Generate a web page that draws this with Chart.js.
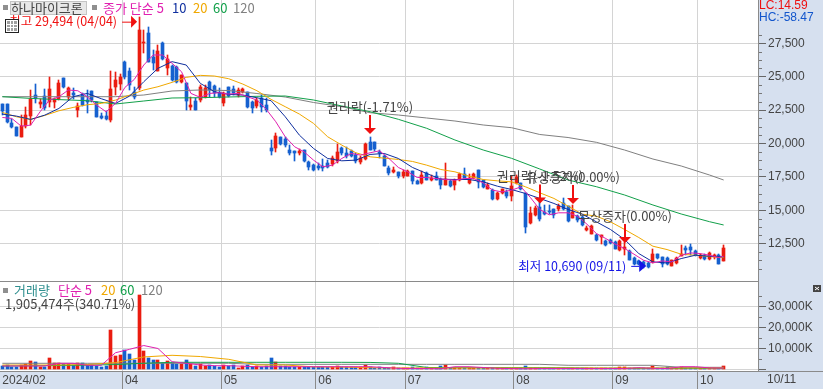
<!DOCTYPE html>
<html>
<head>
<meta charset="utf-8">
<title>하나마이크론</title>
<script src="https://cdn.jsdelivr.net/npm/chart.js@4/dist/chart.umd.min.js"></script>
<style>
  html, body { margin: 0; padding: 0; background: #d6e0ef; overflow: hidden; }
  canvas { display: block; }
</style>
</head>
<body>
<canvas id="stockChart" width="823" height="389"></canvas>
<script>
  // Trading days, 2024
  const dates = [
    '02/22','02/23','02/26','02/27','02/28','02/29',
    '03/04','03/05','03/06','03/07','03/08','03/11','03/12','03/13','03/14','03/15','03/18','03/19','03/20','03/21','03/22','03/25','03/26','03/27','03/28','03/29',
    '04/01','04/02','04/03','04/04','04/05','04/08','04/09','04/11','04/12','04/15','04/16','04/17','04/18','04/19','04/22','04/23','04/24','04/25','04/26','04/29','04/30',
    '05/02','05/03','05/07','05/08','05/09','05/10','05/13','05/14','05/16','05/17','05/20','05/21','05/22','05/23','05/24','05/27','05/28','05/29','05/30','05/31',
    '06/03','06/04','06/05','06/07','06/10','06/11','06/12','06/13','06/14','06/17','06/18','06/19','06/20','06/21','06/24','06/25','06/26','06/27','06/28',
    '07/01','07/02','07/03','07/04','07/05','07/08','07/09','07/10','07/11','07/12','07/15','07/16','07/17','07/18','07/19','07/22','07/23','07/24','07/25','07/26','07/29','07/30','07/31',
    '08/01','08/02','08/05','08/06','08/07','08/08','08/09','08/12','08/13','08/14','08/16','08/19','08/20','08/21','08/22','08/23','08/26','08/27','08/28','08/29','08/30',
    '09/02','09/03','09/04','09/05','09/06','09/09','09/10','09/11','09/12','09/13','09/19','09/20','09/23','09/24','09/25','09/26','09/27','09/30',
    '10/02','10/04','10/07','10/08','10/10','10/11'
  ];
  const blankSlots = 7; // empty room right of the last candle

  const opens = [
    22925,22925,21500,21250,20500,21300,22075,23625,22950,23575,
    23100,23125,23300,24875,23500,23750,22500,23700,23250,23925,
    23075,22075,22075,21750,24200,24450,26125,25425,23875,24125,
    27550,28300,26500,25450,27550,25675,25800,25750,24625,24500,
    22750,23175,23250,23500,24625,24300,23800,23050,24200,24075,
    23600,23875,23825,23125,22800,23375,22875,19630,19630,20505,
    20355,19505,19430,19305,19505,18580,18380,18305,18330,18555,
    18455,18655,19630,19305,19430,19130,18630,18830,20130,20105,
    19380,19055,18180,17880,17880,17555,17580,17930,17205,17055,
    17805,17255,17555,17380,16880,17180,16880,17255,17705,17055,
    17455,18005,17255,16630,16505,15880,16330,16380,16055,17055,
    17012,16262,14012,14637,15262,14887,14962,15062,15062,15562,
    15312,14437,14562,14462,13562,13262,13187,13012,12687,12762,
    12637,12012,12137,11962,11462,11212,11137,11062,11137,11712,
    11512,11462,10812,11062,11562,12212,12262,11962,11462,11587,
    11387,11512,11637,11212
  ];
  const closes = [
    22425,21625,21200,20550,21300,22125,23325,23375,23125,22625,
    24075,23300,24500,24200,24150,23625,22800,22875,23125,23250,
    22000,21875,21800,24075,24750,25000,24950,24375,23500,28500,
    27625,26125,26050,26950,26300,26300,24750,24625,25100,23175,
    22875,22500,24200,24125,24000,23750,23450,23800,23550,23800,
    24000,24050,22750,22625,23250,22750,22500,19430,20555,19930,
    19880,19255,19255,19430,18705,18205,18005,18130,18180,18205,
    18880,19355,19255,19055,19080,18680,18880,19955,19505,19555,
    19255,18305,17755,18005,17555,17880,17930,17205,17005,17630,
    17305,17455,17305,16880,17330,16805,17305,17705,17455,17430,
    17705,17130,16755,16880,15880,16305,16580,16055,16805,17505,
    16562,13762,14812,15137,14312,14712,14837,14637,15312,15062,
    14212,14887,14262,13887,13712,13812,12762,13137,12437,12562,
    12137,12712,12262,11312,10962,10962,10812,10762,11762,11462,
    10962,10962,11262,11462,11762,12012,12012,11637,11637,11362,
    11812,11637,11012,12212
  ];
  const highs = [
    22925,22925,21800,21250,22125,22750,24000,24450,23325,24050,
    24950,23375,24750,24875,24200,24125,23000,23750,24000,23925,
    23125,22300,22425,25450,25375,25200,26175,25625,24200,29494,
    28500,28700,27000,27375,27600,26625,25875,25825,25125,24550,
    23450,23375,24375,24375,24675,24375,24125,23875,24250,24300,
    24125,24125,23875,23200,23375,23625,23375,20255,20755,20505,
    20505,19880,19430,19555,19505,18705,18455,18555,18805,18755,
    19055,19955,19705,19755,19505,19305,19055,20005,20455,20130,
    19505,19130,18305,18205,17880,18005,18005,17930,17305,17930,
    17880,17630,17880,17455,18555,17305,17380,17805,18130,17705,
    17805,18005,17305,17055,16630,16380,16630,16555,17555,17630,
    17062,16262,15262,15312,15637,15387,15387,15062,15437,15887,
    15312,15387,14637,14562,13812,13887,13262,13137,12762,12887,
    12687,12812,12637,12012,11512,11312,11212,11137,12087,11762,
    11512,11512,11312,11512,12387,12312,12512,12062,11762,11712,
    11887,11762,11712,12387
  ];
  const lows = [
    22125,21550,21125,20550,20500,21125,21375,23050,22625,22500,
    22750,22625,23250,24125,23250,23325,22000,22800,22250,23125,
    21950,21800,21750,21625,23625,24000,24800,24000,23325,24000,
    26750,26075,25500,25450,26250,25125,24675,24550,24500,22500,
    22500,22475,23125,23375,23500,23500,23375,22800,23450,23625,
    23450,23750,22625,22250,22625,22325,22375,19130,19380,19880,
    19755,19130,18680,19130,18630,18005,17930,18005,17930,18180,
    18330,18555,19105,18880,19005,18555,18455,18755,19505,19455,
    18880,18305,17630,17755,17430,17455,17555,16955,16955,17005,
    17255,17205,17255,16630,16880,16755,16505,17205,17405,17005,
    17355,16705,16705,16580,15805,15805,16205,15955,15705,17005,
    16512,13312,13962,14562,14212,14637,14712,14387,14962,15012,
    14137,14387,14137,13812,13462,13212,12712,12462,12312,12462,
    12087,11962,11637,11262,10887,10887,10712,10690,11087,11387,
    10762,10887,10812,11012,11562,11637,11637,11587,11387,11262,
    11312,11387,10962,11187
  ];

  // Price moving averages, read every few trading days
  const ma5 = [
    21950,21875,21300,21375,22375,23250,23500,24000,23950,23500,22875,22375,23000,24200,24800,25875,26625,26625,26000,25375,
    23750,23450,23750,23800,23700,23750,23500,23250,22550,21630,20505,19755,19380,18755,18255,18380,18880,19255,19130,19305,
    19455,18880,18205,17880,17455,17455,17380,17305,17255,17380,17380,17055,16505,16380,16505,16755,15962,15062,14662,14812,
    14812,14562,13962,13262,12887,12462,12137,11712,11262,11062,11212,11137,11637,11812,11762,11637,11462,11562
  ];
  const ma10 = [
    22200,22050,21800,22125,22625,23500,23750,23350,23000,23550,24625,25625,26125,25875,24500,23875,23675,23625,23425,
    23205,22005,20630,19630,18880,18705,18755,19180,19255,18880,18205,17755,17330,17305,17305,17130,16805,16555,16255,
    15887,15512,15062,14712,14137,13562,12812,11762,11137,11062,11387,11637,11562,11512
  ];
  const ma20 = [
    22325,22000,21800,22100,22450,22700,22900,23000,23250,23625,24000,24250,24575,24950,25100,25050,24850,24450,23950,
    23305,22755,22205,21505,20505,19880,19305,19005,18905,18805,18655,18380,18055,17880,17555,17305,17205,17130,16755,
    16312,15887,15312,14712,14562,14137,13562,12962,12312,12062,11712,11637,11537,11462
  ];
  const ma60 = [
    23503,23376,23286,23204,22957,23181,23406,23428,23481,23533,23555,23256,22807,22380,21811,21138,20262,19513,18892,18091,
    17268,16767,16145,15397,14723,14147,13900
  ];
  const ma120 = [
    23503,23503,23503,23503,23503,23630,23930,24005,23967,23742,23480,23069,22755,22305,22133,21909,21684,21385,21183,20674,
    20449,20090,19510,18837,18316,17642,17268
  ];

  // Volume in thousands of shares
  const volumes = [
    1580,2054,1264,1264,2054,2844,3950,3476,1264,1264,
    5372,3160,3002,2844,2844,2054,3002,3002,2054,2054,
    1580,1264,1580,18644,6636,6952,9164,7268,4424,35234,
    8690,5688,4740,4740,3160,3950,3160,2844,2844,4740,
    2844,1580,2844,1580,2054,1580,1264,2054,1580,2370,
    948,1580,2370,1264,1580,1264,1580,5530,3476,1580,
    1580,1264,1264,1264,1106,1264,1106,1264,1106,1264,
    1106,1580,1264,1264,1106,1106,1264,2370,1106,948,
    1106,948,948,1106,790,948,948,1106,790,948,
    1264,948,790,1580,2370,790,948,790,790,632,
    948,790,632,790,632,790,632,790,632,632,
    790,1896,790,632,790,632,790,632,632,790,
    632,790,632,632,790,632,632,790,632,632,
    790,1264,1264,790,632,632,790,632,1896,632,
    790,1264,632,790,1264,632,632,790,632,632,
    790,632,790,1905
  ];
  const volMa5 = [
    1706,1706,1706,1706,2986,2986,2038,2038,8000,9620,11400,10000,3744,2986,2180,1850,1850,1600,1370,1370,
    1370,1370,1370,1370,1370,1370,1370,1000,600,500,500,400,1370,1370,1000,600,500,400,500,500,
    500,500,500,500,500,900,600,500,1370,1370,800,700
  ];
  const volMa20 = [2180,2180,2180,2400,3300,6000,6777,6200,4880,2180,2180,1300,1200,900,760,760,760,760,760,760,760,760,760,760,760,760,760];
  const volMa60 = [1706,1800,1950,2100,2400,3000,3460,3460,3460,3460,3460,3460,3460,3400,2990,1000,900,900,900,900,850,600,600,600,600,600,600];
  const volMa120 = [2990,2990,2990,2990,2990,2990,2990,2990,2990,2500,2500,2500,2500,2500,2500,2500,2500,2500,2500,2500,2040,2040,2040,2040,1090,1090,1090];

  // Axis labels
  const monthStartIdx = [0, 26, 47, 67, 86, 109, 130, 148];
  const monthLabels = ['2024/02', '04', '05', '06', '07', '08', '09', '10'];
  const priceTicks = [27500, 25000, 22500, 20000, 17500, 15000, 12500];
  const priceMinorTicks = [28125,26875,26250,25625,24375,23750,23125,21875,21250,20625,19375,18750,18125,16875,16250,15625,14375,13750,13125,11875,11250,10625];
  const volumeTicks = [30000, 20000, 10000, 0];
  const volumeMinorTicks = [35000, 25000, 15000, 5000];

  // Events marked with a down arrow
  const eventIdx = [78, 114, 121, 132];
  const eventPrices = [20710, 15510, 15470, 12550];
  const eventTexts = ['권리락(-1.71%)', '권리락(-1.52%)', '유상증자(0.00%)', '무상증자(0.00%)'];

  const highIdx = 29, highPrice = 29494, highText = '최고 29,494 (04/04)';
  const lowIdx = 137, lowPrice = 10690, lowText = '최저 10,690 (09/11)';

  const RED = '#ea1c10';
  const BLUE = '#1560cf';
  const GRID = '#d4d4d4';
  const AXIS = '#8a8a8a';
  const TEXT = '#444444';
  const C5 = '#e020b0', C10 = '#0f2f9f', C20 = '#f0a800', C60 = '#12a04a', C120 = '#808080';
  const FONT = "'Liberation Sans Narrow','Liberation Sans','Noto Sans CJK KR',sans-serif";
  const KFONT = "'Noto Sans CJK KR',sans-serif";

  const labels = dates.concat(Array(blankSlots).fill(''));
  const isUp = i => closes[i] >= opens[i];

  // lines only carry a value every `step` days
  function knots(values, step) {
    return values.map((y, k) => ({ x: dates[Math.min(k * step, dates.length - 1)], y: y }));
  }

  function maLine(label, values, step, color, axis) {
    return {
      type: 'line', label: label, data: knots(values, step), yAxisID: axis,
      borderColor: color, borderWidth: 1, pointRadius: 0, tension: 0, order: 1
    };
  }

  function fmt(n) {
    return n.toString().replace(/\B(?=(\d{3})+$)/g, ',');
  }

  // stop the first and last tick label from pushing the chart area in
  function noPadding(scale) {
    scale.paddingTop = 0;
    scale.paddingBottom = 0;
    scale.paddingLeft = 0;
    scale.paddingRight = 0;
  }

  // Panel backgrounds, separators, minor ticks, and all the floating text
  const decorations = {
    id: 'decorations',
    afterDatasetsUpdate(chart) {
      // keep bars on whole pixels like the original
      chart.data.datasets.forEach((ds, i) => {
        if (ds.type === 'line') return;
        chart.getDatasetMeta(i).data.forEach(bar => {
          bar.x = Math.floor(bar.x) + 0.5;
          bar.y = Math.round(bar.y);
          bar.base = Math.round(bar.base);
          if (bar.base === bar.y) bar.base = bar.y + 1;
        });
      });
    },
    beforeDraw(chart) {
      const { ctx, chartArea: a } = chart;
      ctx.save();
      ctx.fillStyle = '#d6e0ef';
      ctx.fillRect(0, 0, chart.width, chart.height);
      ctx.fillStyle = '#ffffff';
      ctx.fillRect(a.left, a.top, a.right - a.left, a.bottom - a.top);
      ctx.restore();
    },
    afterDraw(chart) {
      const { ctx, chartArea: a, scales } = chart;
      const price = scales.price, vol = scales.volume, x = scales.x;
      ctx.save();

      // separators
      ctx.fillStyle = AXIS;
      ctx.fillRect(a.right - 1, 0, 1, a.bottom);
      ctx.fillRect(0, price.bottom, a.right, 1);
      ctx.fillRect(0, a.bottom, chart.width, 1);

      // minor ticks on the right axis
      ctx.fillStyle = '#777777';
      priceMinorTicks.forEach(v => ctx.fillRect(a.right, Math.round(price.getPixelForValue(v)), 3, 1));
      volumeMinorTicks.forEach(v => ctx.fillRect(a.right, Math.round(vol.getPixelForValue(v)), 3, 1));

      ctx.textBaseline = 'middle';
      ctx.textAlign = 'left';

      // price legend
      ctx.fillStyle = '#8f8f8f';
      ctx.fillRect(3, 5, 5, 5);
      ctx.fillRect(92, 5, 5, 5);
      ctx.fillStyle = '#e8e8e8';
      ctx.fillRect(10, 1, 77, 14);
      ctx.strokeStyle = '#c4c4c4';
      ctx.strokeRect(10.5, 1.5, 76, 13);
      ctx.font = '13px ' + KFONT;
      ctx.fillStyle = TEXT;
      ctx.fillText('하나마이크론', 11, 8);
      ctx.fillStyle = C5;
      ctx.fillText('종가 단순 5', 103, 8);
      ctx.fillStyle = C10;
      ctx.fillText('10', 172, 8);
      ctx.fillStyle = C20;
      ctx.fillText('20', 193, 8);
      ctx.fillStyle = C60;
      ctx.fillText('60', 213, 8);
      ctx.fillStyle = C120;
      ctx.fillText('120', 233, 8);

      // LC / HC box
      ctx.font = '12px ' + FONT;
      ctx.fillStyle = '#ee1111';
      ctx.fillText('LC:14.59', 759, 6);
      ctx.fillStyle = '#1155cc';
      ctx.fillText('HC:-58.47', 759, 18);

      // highest and lowest price markers
      const hiX = x.getPixelForValue(highIdx), hiY = price.getPixelForValue(highPrice) + 5;
      ctx.font = '12.5px ' + KFONT;
      ctx.fillStyle = '#f01010';
      ctx.textAlign = 'right';
      ctx.fillText(highText, hiX - 22, hiY);
      ctx.fillRect(hiX - 17, hiY, 10, 1);
      ctx.beginPath();
      ctx.moveTo(hiX - 8, hiY - 6);
      ctx.lineTo(hiX - 2, hiY);
      ctx.lineTo(hiX - 8, hiY + 6);
      ctx.fill();

      const loX = x.getPixelForValue(lowIdx), loY = price.getPixelForValue(lowPrice) - 2;
      ctx.fillStyle = '#1414e6';
      ctx.fillText(lowText, loX - 22, loY);
      ctx.fillRect(loX - 17, loY, 8, 1);
      ctx.beginPath();
      ctx.moveTo(loX - 9, loY - 6);
      ctx.lineTo(loX - 2, loY);
      ctx.lineTo(loX - 9, loY + 6);
      ctx.fill();

      // event arrows with labels
      ctx.font = '13px ' + KFONT;
      ctx.textAlign = 'center';
      eventIdx.forEach((idx, k) => {
        const ex = Math.round(x.getPixelForValue(idx));
        const ey = price.getPixelForValue(eventPrices[k]);
        ctx.fillStyle = '#f01010';
        ctx.fillRect(ex - 1, ey - 19, 2, 14);
        ctx.beginPath();
        ctx.moveTo(ex - 6, ey - 6);
        ctx.lineTo(ex + 6, ey - 6);
        ctx.lineTo(ex, ey);
        ctx.fill();
        ctx.fillStyle = TEXT;
        ctx.fillText(eventTexts[k], ex, ey - 27);
      });
      ctx.textAlign = 'left';

      // table icon over the high label
      ctx.fillStyle = '#ffffff';
      ctx.fillRect(5, 19, 14, 14);
      ctx.strokeStyle = '#222222';
      ctx.strokeRect(5.5, 19.5, 13, 13);
      ctx.fillStyle = '#a0a0a0';
      ctx.fillRect(7, 21, 10, 10);
      ctx.fillStyle = '#ffffff';
      ctx.fillRect(10, 21, 1, 10);
      ctx.fillRect(13, 21, 1, 10);
      ctx.fillRect(7, 24, 10, 1);
      ctx.fillRect(7, 27, 10, 1);

      // volume legend
      ctx.fillStyle = '#8f8f8f';
      ctx.fillRect(3, 288, 5, 5);
      ctx.font = '13px ' + KFONT;
      ctx.fillStyle = '#2f8f8f';
      ctx.fillText('거래량', 14, 290);
      ctx.fillStyle = C5;
      ctx.fillText('단순 5', 58, 290);
      ctx.fillStyle = C20;
      ctx.fillText('20', 101, 290);
      ctx.fillStyle = C60;
      ctx.fillText('60', 120, 290);
      ctx.fillStyle = C120;
      ctx.fillText('120', 141, 290);
      ctx.fillStyle = TEXT;
      ctx.fillText('1,905,474주(340.71%)', 5, 304);

      // close button of the volume panel
      ctx.fillStyle = '#444444';
      ctx.fillRect(813, 285, 8, 7);
      ctx.strokeStyle = '#ffffff';
      ctx.beginPath();
      ctx.moveTo(815, 287);
      ctx.lineTo(819, 290);
      ctx.moveTo(819, 287);
      ctx.lineTo(815, 290);
      ctx.stroke();

      // date of the last candle
      ctx.font = '12px ' + FONT;
      ctx.fillStyle = TEXT;
      ctx.fillText('10/11', 767, 380);
      ctx.restore();
    }
  };

  const isMonthStart = ctx => monthStartIdx.indexOf(ctx.index) > 0;

  const stockChart = new Chart(document.getElementById('stockChart').getContext('2d'), {
    type: 'bar',
    data: {
      labels: labels,
      datasets: [
        maLine('MA5', ma5, 2, C5, 'price'),
        maLine('MA10', ma10, 3, C10, 'price'),
        maLine('MA20', ma20, 3, C20, 'price'),
        maLine('MA60', ma60, 6, C60, 'price'),
        maLine('MA120', ma120, 6, C120, 'price'),
        maLine('Vol MA5', volMa5, 3, C5, 'volume'),
        maLine('Vol MA20', volMa20, 6, C20, 'volume'),
        maLine('Vol MA60', volMa60, 6, C60, 'volume'),
        maLine('Vol MA120', volMa120, 6, C120, 'volume'),
        {
          label: 'Body',
          data: opens.map((o, i) => [o, closes[i]]),
          backgroundColor: opens.map((o, i) => isUp(i) ? RED : BLUE),
          barThickness: 3, grouped: false, yAxisID: 'price', order: 2
        },
        {
          label: 'Wick',
          data: lows.map((l, i) => [l, highs[i]]),
          backgroundColor: opens.map((o, i) => isUp(i) ? RED : BLUE),
          barThickness: 1, grouped: false, yAxisID: 'price', order: 3
        },
        {
          label: 'Volume',
          data: volumes,
          backgroundColor: opens.map((o, i) => isUp(i) ? RED : BLUE),
          barThickness: 3, grouped: false, yAxisID: 'volume', order: 3
        }
      ]
    },
    options: {
      responsive: false,
      animation: false,
      devicePixelRatio: 1,
      layout: { padding: 0, autoPadding: false },
      plugins: { legend: { display: false }, tooltip: { enabled: false } },
      scales: {
        x: {
          type: 'category',
          offset: true,
          afterFit: scale => { scale.height = 18; noPadding(scale); },
          border: { display: false },
          grid: {
            offset: true,
            tickLength: 18,
            color: GRID,
            tickColor: AXIS,
            lineWidth: ctx => isMonthStart(ctx) ? 1 : 0,
            tickWidth: ctx => isMonthStart(ctx) ? 1 : 0
          },
          ticks: {
            autoSkip: false,
            maxRotation: 0,
            minRotation: 0,
            align: 'start',
            padding: -16,
            color: TEXT,
            font: { family: FONT, size: 12 },
            callback: function(value, index) {
              const k = monthStartIdx.indexOf(index);
              return k >= 0 ? monthLabels[k] : '';
            }
          }
        },
        price: {
          position: 'right',
          stack: 'panels',
          stackWeight: 281,
          weight: 1,
          min: 9708,
          max: 30741,
          afterFit: scale => { scale.width = 64; noPadding(scale); },
          afterBuildTicks: scale => { scale.ticks = priceTicks.map(v => ({ value: v })); },
          border: { display: false },
          grid: { color: GRID, tickColor: '#666666', tickLength: 7 },
          ticks: {
            autoSkip: false,
            padding: 2,
            color: TEXT,
            font: { family: FONT, size: 12 },
            callback: v => fmt(v)
          }
        },
        volume: {
          position: 'right',
          stack: 'panels',
          stackWeight: 90,
          weight: 2,
          min: -663,
          max: 41990,
          afterFit: scale => { scale.width = 64; noPadding(scale); },
          afterBuildTicks: scale => { scale.ticks = volumeTicks.map(v => ({ value: v })); },
          border: { display: false },
          grid: { color: GRID, tickColor: '#666666', tickLength: 7 },
          ticks: {
            autoSkip: false,
            padding: 2,
            color: TEXT,
            font: { family: FONT, size: 12 },
            callback: v => v === 0 ? '' : fmt(v) + 'K'
          }
        }
      }
    },
    plugins: [decorations]
  });
</script>
</body>
</html>
